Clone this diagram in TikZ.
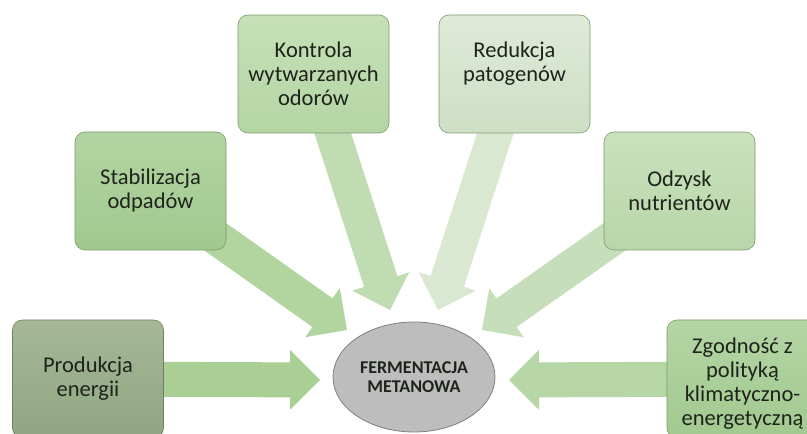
\documentclass[tikz,border=0pt]{standalone}
\usepackage{fontspec}
\setmainfont{Carlito}
\usetikzlibrary{calc,backgrounds,shapes.geometric}
\definecolor{txt}{HTML}{1E231B}
\definecolor{bordgreen}{HTML}{7C9A6C}
\definecolor{bordgray}{HTML}{6E7F66}
\definecolor{ellfill}{HTML}{BDBDBD}
\definecolor{ellbord}{HTML}{7F7F7F}
\definecolor{aP}{HTML}{A9CF94}
\definecolor{aS}{HTML}{B2D49F}
\definecolor{aK}{HTML}{C0DCB2}
\definecolor{aR}{HTML}{DAE8D2}
\definecolor{aO}{HTML}{C7DEBA}
\definecolor{aZ}{HTML}{B6D6A6}
\definecolor{bPt}{HTML}{A5B797}\definecolor{bPb}{HTML}{90A682}
\definecolor{bSt}{HTML}{B2D4A2}\definecolor{bSb}{HTML}{A1C98F}
\definecolor{bKt}{HTML}{C6E1B8}\definecolor{bKb}{HTML}{B4D5A4}
\definecolor{bRt}{HTML}{DFEAD8}\definecolor{bRb}{HTML}{CEDFC4}
\definecolor{bOt}{HTML}{CAE1BD}\definecolor{bOb}{HTML}{B8D6A9}
\definecolor{bZt}{HTML}{B4D5A4}\definecolor{bZb}{HTML}{A2C990}
\tikzset{
  boxstyle/.style={rounded corners=10pt, minimum width=151pt, minimum height=118pt,
    inner sep=2pt, align=center, text=txt, font=\fontsize{22.5}{24}\selectfont, line width=0.6pt},
}
% #1 colour, #2 start, #3 tip
\newcommand{\blockarrow}[3]{%
  \coordinate (ba-h) at ($(#3)!30pt!(#2)$);
  \fill[#1] ($(#2)!17.5pt!90:(#3)$) -- ($(ba-h)!17.5pt!90:(#3)$) -- ($(ba-h)!30pt!90:(#3)$)
    -- (#3) -- ($(ba-h)!30pt!-90:(#3)$) -- ($(ba-h)!17.5pt!-90:(#3)$)
    -- ($(#2)!17.5pt!-90:(#3)$) -- cycle;}
\begin{document}
\begin{tikzpicture}[x=1pt,y=1pt]
\useasboundingbox (0,0) rectangle (807,434);
\clip (0,0) rectangle (807,434);
% boxes (y = 434 - pixel y)
\node[boxstyle, draw=bordgray, top color=bPt, bottom color=bPb] (prod) at (88,55) {Produkcja\\energii};
\node[boxstyle, draw=bordgreen, top color=bSt, bottom color=bSb] (stab) at (150.5,243) {Stabilizacja\\odpad\'ow};
\node[boxstyle, draw=bordgreen, top color=bKt, bottom color=bKb] (kont) at (313.5,360) {Kontrola\\wytwarzanych\\odor\'ow};
\node[boxstyle, draw=bordgreen, top color=bRt, bottom color=bRb] (redu) at (514.5,360) {Redukcja\\patogen\'ow\\\mbox{}};
\node[boxstyle, draw=bordgreen, top color=bOt, bottom color=bOb] (odzy) at (679.5,243) {Odzysk\\nutrient\'ow};
\node[boxstyle, draw=bordgreen, top color=bZt, bottom color=bZb] (zgod) at (742.5,55) {\mbox{}\\Zgodno\'s\'c z\\polityk\k{a}\\klimatyczno-\\energetyczn\k{a}};
% centre ellipse
\node[ellipse, draw=ellbord, fill=ellfill, line width=0.8pt, minimum width=162pt, minimum height=110pt,
  align=center, text=txt, font=\bfseries\fontsize{18}{19.5}\selectfont] (ferm) at (414,57) {FERMENTACJA\\METANOWA};
% arrow tips
\coordinate (tP) at (320,54);
\coordinate (tS) at (347,104);
\coordinate (tK) at (390,124);
\coordinate (tR) at (438,124);
\coordinate (tO) at (482,104);
\coordinate (tZ) at (509,54);
\begin{pgfonlayer}{background}
\blockarrow{aP}{prod.center}{tP}
\blockarrow{aS}{stab.center}{tS}
\blockarrow{aK}{kont.center}{tK}
\blockarrow{aR}{redu.center}{tR}
\blockarrow{aO}{odzy.center}{tO}
\blockarrow{aZ}{zgod.center}{tZ}
\end{pgfonlayer}
\end{tikzpicture}
\end{document}
